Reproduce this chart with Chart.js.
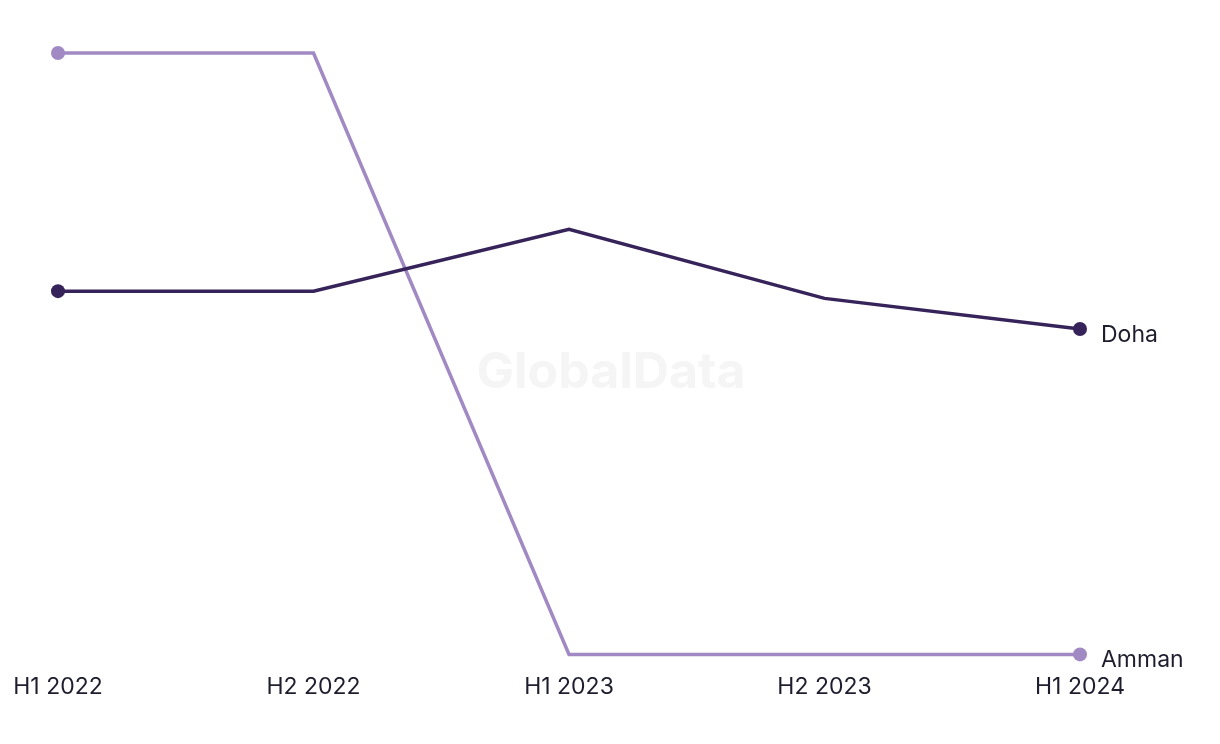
<!DOCTYPE html>
<html>
<head>
<meta charset="utf-8">
<script src="https://cdn.jsdelivr.net/npm/chart.js@4/dist/chart.umd.min.js"></script>
<style>
  html, body { margin: 0; padding: 0; background: #fff; }
  #wrap { width: 1220px; height: 744px; position: relative; }
</style>
</head>
<body>
<div id="wrap"><canvas id="chart"></canvas></div>
<script>
// ===== data =====
const periods = ["H1 2022", "H2 2022", "H1 2023", "H2 2023", "H1 2024"];
const ammanVals = [100, 100, 0, 0, 0];
const dohaVals  = [60.4, 60.4, 70.7, 59.2, 54.1];

const AMMAN_COLOR = "#a189c3";
const DOHA_COLOR  = "#36235a";
const TEXT_COLOR  = "#1d1d2e";
const FONT = "Inter, 'Liberation Sans', sans-serif";

// marker only on first and last point
function endsOnly(ctx){
  const n = ctx.chart.data.labels.length;
  return (ctx.dataIndex === 0 || ctx.dataIndex === n - 1) ? 7 : 0;
}

function line(label, data, color){
  return {
    label,
    data,
    borderColor: color,
    backgroundColor: color,
    borderWidth: 3.5,
    tension: 0,
    pointRadius: endsOnly,
    pointHoverRadius: endsOnly,
    pointBorderWidth: 0,
    clip: false,
  };
}

// watermark behind the lines
const watermark = {
  id: "watermark",
  beforeDatasetsDraw(chart){
    const { ctx } = chart;
    ctx.save();
    ctx.font = "bold 50px " + FONT;
    ctx.fillStyle = "#f5f5f5";
    ctx.textAlign = "center";
    ctx.textBaseline = "middle";
    ctx.fillText("GlobalData", 611, 373);
    ctx.restore();
  }
};

// series names next to last point
const endLabels = {
  id: "endLabels",
  afterDatasetsDraw(chart){
    const { ctx } = chart;
    ctx.save();
    ctx.font = "23px " + FONT;
    ctx.fillStyle = TEXT_COLOR;
    ctx.textAlign = "left";
    ctx.textBaseline = "middle";
    chart.data.datasets.forEach((ds, i) => {
      const meta = chart.getDatasetMeta(i);
      const pt = meta.data[meta.data.length - 1];
      ctx.fillText(ds.label, pt.x + 21, pt.y + 6);
    });
    ctx.restore();
  }
};

new Chart(document.getElementById("chart"), {
  type: "line",
  data: {
    labels: periods,
    datasets: [
      line("Doha", dohaVals, DOHA_COLOR),
      line("Amman", ammanVals, AMMAN_COLOR),
    ]
  },
  options: {
    responsive: true,
    maintainAspectRatio: false,
    animation: false,
    layout: { padding: { left: 58, right: 140, top: 53, bottom: 24 } },
    plugins: {
      legend: { display: false },
      tooltip: { enabled: false },
    },
    scales: {
      x: {
        offset: false,
        grid: { display: false, drawTicks: false },
        border: { display: false },
        afterFit(scale){
          // don't let the edge labels push the plot area inwards
          scale.paddingLeft = 0;
          scale.paddingRight = 0;
        },
        ticks: {
          color: TEXT_COLOR,
          font: { family: FONT, size: 23 },
          padding: 19,
          maxRotation: 0,
          autoSkip: false,
        }
      },
      y: {
        display: false,
        min: 0,
        max: 100,
      }
    }
  },
  plugins: [watermark, endLabels]
});
</script>
</body>
</html>
